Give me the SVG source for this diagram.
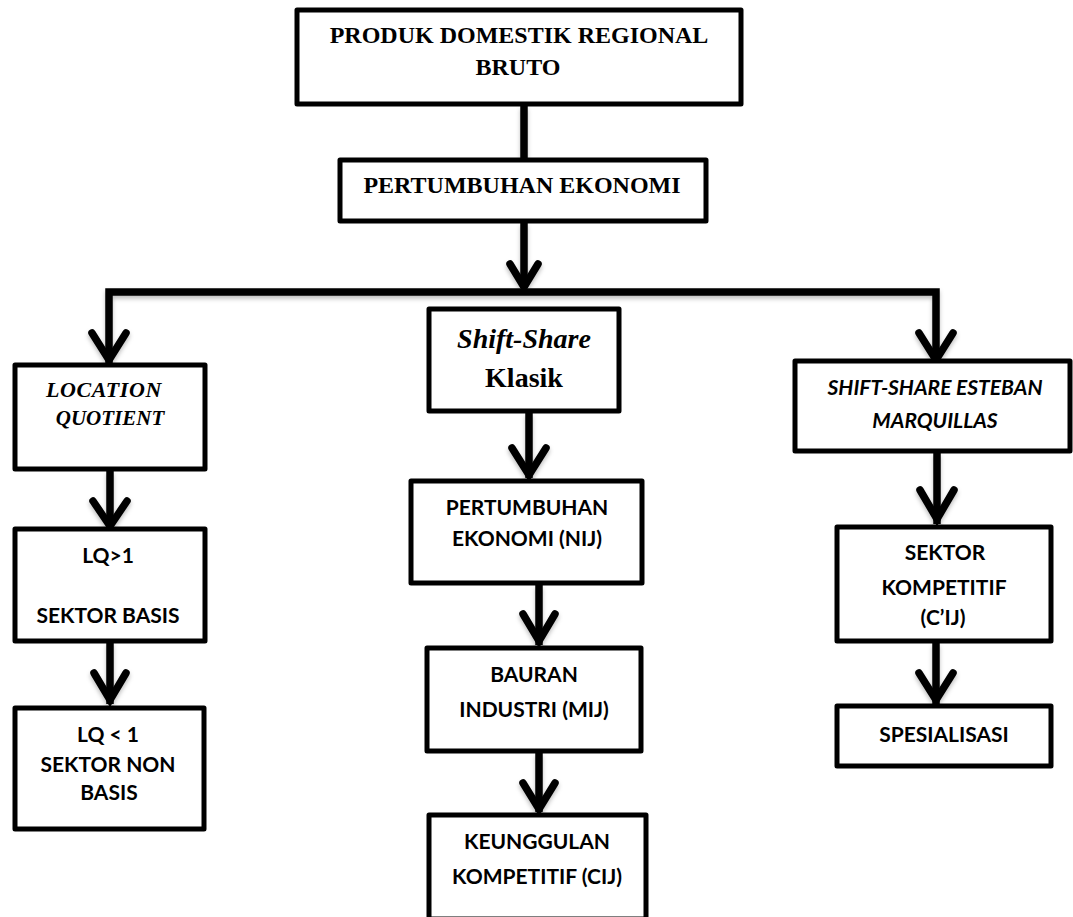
<svg xmlns="http://www.w3.org/2000/svg" width="1073" height="917" viewBox="0 0 1073 917">
  <defs>
    <style>
      .box { fill: #ffffff; stroke: #000000; stroke-width: 5; stroke-linejoin: round; }
      .ln { fill: none; stroke: #000000; stroke-width: 7.5; stroke-linecap: butt; }
      .hd { fill: none; stroke: #000000; stroke-width: 7.5; stroke-linecap: round; stroke-linejoin: miter; }
      .serif { font-family: "Liberation Serif", "Times New Roman", serif; font-weight: bold; fill: #000; text-anchor: middle; }
      .sans { font-family: Lato, "Liberation Sans", sans-serif; font-weight: bold; font-size: 21px; fill: #000; text-anchor: middle; }
      .it { font-style: italic; }
    </style>
    <filter id="sh" x="-20%" y="-20%" width="140%" height="160%">
      <feDropShadow dx="0" dy="3" stdDeviation="2" flood-color="#000" flood-opacity="0.25"/>
    </filter>
  </defs>

  <g id="connectors" filter="url(#sh)">
    <line class="ln" x1="524" y1="106" x2="524" y2="158"/>
    <line class="ln" x1="524" y1="223" x2="524" y2="288"/>
    <polyline class="hd" points="510,264 524,287 538,264"/>
    <polyline class="ln" points="109,364 109,292 936,292 936,360" stroke-linejoin="miter"/>
    <polyline class="hd" points="92,333 109,360 126,333"/>
    <polyline class="hd" points="919,333 936,360 953,333"/>
    <line class="ln" x1="110" y1="471" x2="110" y2="527"/>
    <polyline class="hd" points="93,501 110,526 127,501"/>
    <line class="ln" x1="110" y1="642" x2="110" y2="704"/>
    <polyline class="hd" points="94,673 110,700 126,673"/>
    <line class="ln" x1="529" y1="413" x2="529" y2="478"/>
    <polyline class="hd" points="512,448 529,475 546,448"/>
    <line class="ln" x1="539" y1="585" x2="539" y2="645"/>
    <polyline class="hd" points="523,614 539,641 555,614"/>
    <line class="ln" x1="539" y1="753" x2="539" y2="812"/>
    <polyline class="hd" points="523,783 539,809 555,783"/>
    <line class="ln" x1="937" y1="453" x2="937" y2="524"/>
    <polyline class="hd" points="920,490 937,519 954,490"/>
    <line class="ln" x1="936" y1="643" x2="936" y2="704"/>
    <polyline class="hd" points="919,673 936,700 953,673"/>
  </g>

  <g id="pdrb">
    <rect class="box" x="297" y="10" width="444" height="94"/>
    <text class="serif" x="519" y="43" font-size="24">PRODUK DOMESTIK REGIONAL</text>
    <text class="serif" x="518" y="75" font-size="24">BRUTO</text>
  </g>

  <g id="pertumbuhan-ekonomi">
    <rect class="box" x="340" y="160" width="366" height="61"/>
    <text class="serif" x="522" y="193" font-size="24">PERTUMBUHAN EKONOMI</text>
  </g>

  <g id="location-quotient">
    <rect class="box" x="15" y="365" width="190" height="104"/>
    <text class="serif it" x="104" y="397" font-size="22" letter-spacing="0.6">LOCATION</text>
    <text class="serif it" x="110" y="425" font-size="21">QUOTIENT</text>
  </g>

  <g id="lq-basis">
    <rect class="box" x="15" y="529" width="190" height="112"/>
    <text class="sans" x="108" y="563">LQ&gt;1</text>
    <text class="sans" x="108" y="623">SEKTOR BASIS</text>
  </g>

  <g id="lq-nonbasis">
    <rect class="box" x="15" y="708" width="189" height="121"/>
    <text class="sans" x="108" y="742">LQ &lt; 1</text>
    <text class="sans" x="108" y="772">SEKTOR NON</text>
    <text class="sans" x="109" y="800">BASIS</text>
  </g>

  <g id="shift-share-klasik">
    <rect class="box" x="429" y="309" width="190" height="102"/>
    <text class="serif it" x="524" y="348" font-size="28">Shift-Share</text>
    <text class="serif" x="524" y="387" font-size="28">Klasik</text>
  </g>

  <g id="nij">
    <rect class="box" x="411" y="481" width="231" height="102"/>
    <text class="sans" x="527" y="515">PERTUMBUHAN</text>
    <text class="sans" x="527" y="546">EKONOMI (NIJ)</text>
  </g>

  <g id="mij">
    <rect class="box" x="427" y="648" width="214" height="103"/>
    <text class="sans" x="534" y="682">BAURAN</text>
    <text class="sans" x="534" y="717">INDUSTRI (MIJ)</text>
  </g>

  <g id="cij">
    <rect class="box" x="429" y="815" width="217" height="104"/>
    <text class="sans" x="537" y="849">KEUNGGULAN</text>
    <text class="sans" x="537" y="884">KOMPETITIF (CIJ)</text>
  </g>

  <g id="esteban-marquillas">
    <rect class="box" x="795" y="361" width="275" height="90"/>
    <text class="sans it" x="935" y="395">SHIFT-SHARE ESTEBAN</text>
    <text class="sans it" x="935" y="428">MARQUILLAS</text>
  </g>

  <g id="sektor-kompetitif">
    <rect class="box" x="837" y="527" width="214" height="114"/>
    <text class="sans" x="945" y="560">SEKTOR</text>
    <text class="sans" x="944" y="595">KOMPETITIF</text>
    <text class="sans" x="943" y="625">(C’IJ)</text>
  </g>

  <g id="spesialisasi">
    <rect class="box" x="837" y="706" width="214" height="60"/>
    <text class="sans" x="944" y="742">SPESIALISASI</text>
  </g>
</svg>
